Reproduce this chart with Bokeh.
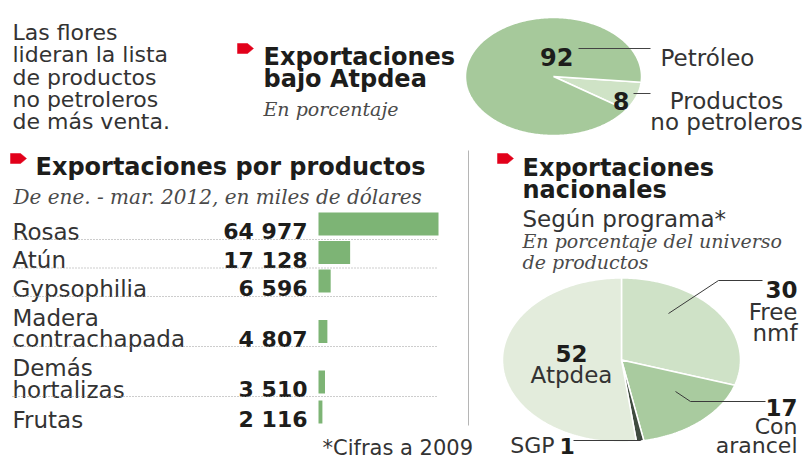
import numpy as np
from bokeh.plotting import figure
from bokeh.models import Range1d
from bokeh.core.properties import value
from bokeh.embed import file_html
from bokeh.resources import INLINE

# ---------------- data ----------------
intro_lines = ["Las flores", "lideran la lista", "de productos", "no petroleros", "de más venta."]

atp_labels = ["Productos no petroleros", "Petróleo"]
atp_values = [8, 92]

prod_names = ["Rosas", "Atún", "Gypsophilia", "Madera\ncontrachapada", "Demás\nhortalizas", "Frutas"]
prod_values = [64977, 17128, 6596, 4807, 3510, 2116]

prog_labels = ["Free nmf", "Con arancel", "SGP", "Atpdea"]
prog_values = [30, 17, 1, 52]

# ---------------- layout / style ----------------
W, H = 812, 458
SANS = "DejaVu Sans"
SERIF = "DejaVu Serif"
DARK = "#1d1d1b"
BODY = "#333333"
SUB = "#4a4a4a"
RED = "#e2001a"
BAR = "#7db475"


def Y(yi):
    return H - yi


p = figure(width=W, height=H, x_range=Range1d(0, W), y_range=Range1d(0, H),
           output_backend="svg", toolbar_location=None, min_border=0,
           x_axis_location=None, y_axis_location=None)
p.grid.visible = False
p.outline_line_color = None
p.background_fill_color = "white"


def T(x, yi, s, size=21, style="normal", font=SANS, align="left", color=BODY):
    p.text(x=[x], y=[Y(yi)], text=[s], text_font=value(font), text_font_size=f"{size}px",
           text_font_style=style, text_align=align, text_baseline="alphabetic", text_color=color)


def arrow(x0, yc):
    xs = [x0, x0 + 10, x0 + 16, x0 + 10, x0]
    ys = [Y(yc - 5), Y(yc - 5), Y(yc), Y(yc + 5), Y(yc + 5)]
    p.patch(xs, ys, fill_color=RED, line_color=RED, line_width=0.5)


def ellipse_slices(cx, cy, rx, ry, vals, start_deg):
    total = float(sum(vals))
    xs, ys = [], []
    a = start_deg
    for v in vals:
        sweep = 360.0 * v / total
        t = np.radians(np.linspace(a, a - sweep, max(int(sweep) + 3, 4)))
        xs.append([cx] + list(cx + rx * np.cos(t)))
        ys.append([Y(cy)] + list(Y(cy) + ry * np.sin(t)))
        a -= sweep
    return xs, ys


# ---------------- intro text ----------------
for i, line in enumerate(intro_lines):
    T(12, 32 + i * 22.3, line, size=22)

# ---------------- top: Exportaciones bajo Atpdea ----------------
arrow(237, 48)
T(263, 56, "Exportaciones", size=24, style="bold", color=DARK)
T(263, 78, "bajo Atpdea", size=24, style="bold", color=DARK)
T(263, 108, "En porcentaje", size=19, style="italic", font=SERIF, color=SUB)

xs, ys = ellipse_slices(553, 76, 88, 59, atp_values, -5.5)
p.patches(xs, ys, fill_color=["#cfe3c6", "#a6c99b"], line_color="white", line_width=1.5)

T(573, 56, f"{atp_values[1]}", size=24, style="bold", align="right", color=DARK)
p.line([578, 650], [Y(48), Y(48)], line_color="#444444", line_width=1)
T(660, 57, "Petróleo", size=23)
T(629, 100, f"{atp_values[0]}", size=24, style="bold", align="right", color=DARK)
p.line([633, 650], [Y(93), Y(93)], line_color="#444444", line_width=1)
T(726, 100, "Productos", size=23, align="center")
T(726, 121, "no petroleros", size=23, align="center")

# ---------------- left: Exportaciones por productos ----------------
arrow(10, 158)
T(35, 166, "Exportaciones por productos", size=24, style="bold", color=DARK)
T(13, 196, "De ene. - mar. 2012, en miles de dólares", size=20, style="italic", font=SERIF, color=SUB)

ROW_CY = [223.5, 252, 280.5, 331, 381.5, 411.5]
SEP_Y = [239, 267.5, 296, 346, 396]
BAR_X0, BAR_MAXPX = 318, 120

# value scale: 0 -> x=318, max -> x=438
k = BAR_MAXPX / max(prod_values)
p.extra_x_ranges["val"] = Range1d(-BAR_X0 / k, (W - BAR_X0) / k)

p.hbar(y=[Y(c) for c in ROW_CY], left=0, right=prod_values, height=23,
       x_range_name="val", fill_color=BAR, line_color=None)

for name, v, cy in zip(prod_names, prod_values, ROW_CY):
    lines = name.split("\n")
    base = cy + 7.5
    for j, ln in enumerate(reversed(lines)):
        T(12, base - j * 21.5, ln, size=23)
    T(307, base, f"{v:,}".replace(",", " "), size=22, style="bold", align="right", color=DARK)

for sy in SEP_Y:
    p.line([12, 438], [Y(sy), Y(sy)], line_color="#9a9a9a", line_width=1, line_dash="1 2")

T(322, 447, "*Cifras a 2009", size=21)

# divider
p.line([468, 468], [Y(150), Y(425)], line_color="#b5b5b5", line_width=1)

# ---------------- right: Exportaciones nacionales ----------------
arrow(497, 158)
T(522, 167, "Exportaciones", size=24, style="bold", color=DARK)
T(522, 189, "nacionales", size=24, style="bold", color=DARK)
T(522, 218, "Según programa*", size=23)
T(522, 240, "En porcentaje del universo", size=19, style="italic", font=SERIF, color=SUB)
T(522, 261, "de productos", size=19, style="italic", font=SERIF, color=SUB)

xs, ys = ellipse_slices(621, 359.5, 119, 82, prog_values, 90)
p.patches(xs, ys, fill_color=["#cfe2c7", "#a9cb9f", "#3f4b3f", "#e3ecdc"],
          line_color="white", line_width=1.5)

LC = "#3a3a3a"
p.line([668, 718, 762], [Y(313), Y(280), Y(280)], line_color=LC, line_width=1)
p.line([675, 690, 765], [Y(391), Y(401), Y(401)], line_color=LC, line_width=1)
p.line([573, 640, 641], [Y(440), Y(440), Y(436)], line_color=LC, line_width=1)

T(797, 289, f"{prog_values[0]}", size=23, style="bold", align="right", color=DARK)
T(797, 311, "Free", size=23, align="right")
T(797, 332, "nmf", size=23, align="right")
T(797, 407, f"{prog_values[1]}", size=23, style="bold", align="right", color=DARK)
T(797, 426, "Con", size=22, align="right")
T(797, 445, "arancel", size=22, align="right")
T(554, 445, "SGP", size=22, align="right")
T(559, 445, f"{prog_values[2]}", size=22, style="bold", align="left", color=DARK)
T(571, 353, f"{prog_values[3]}", size=23, style="bold", align="center", color=DARK)
T(571, 374, "Atpdea", size=23, align="center")

open("out.html", "w").write(file_html(p, INLINE))
